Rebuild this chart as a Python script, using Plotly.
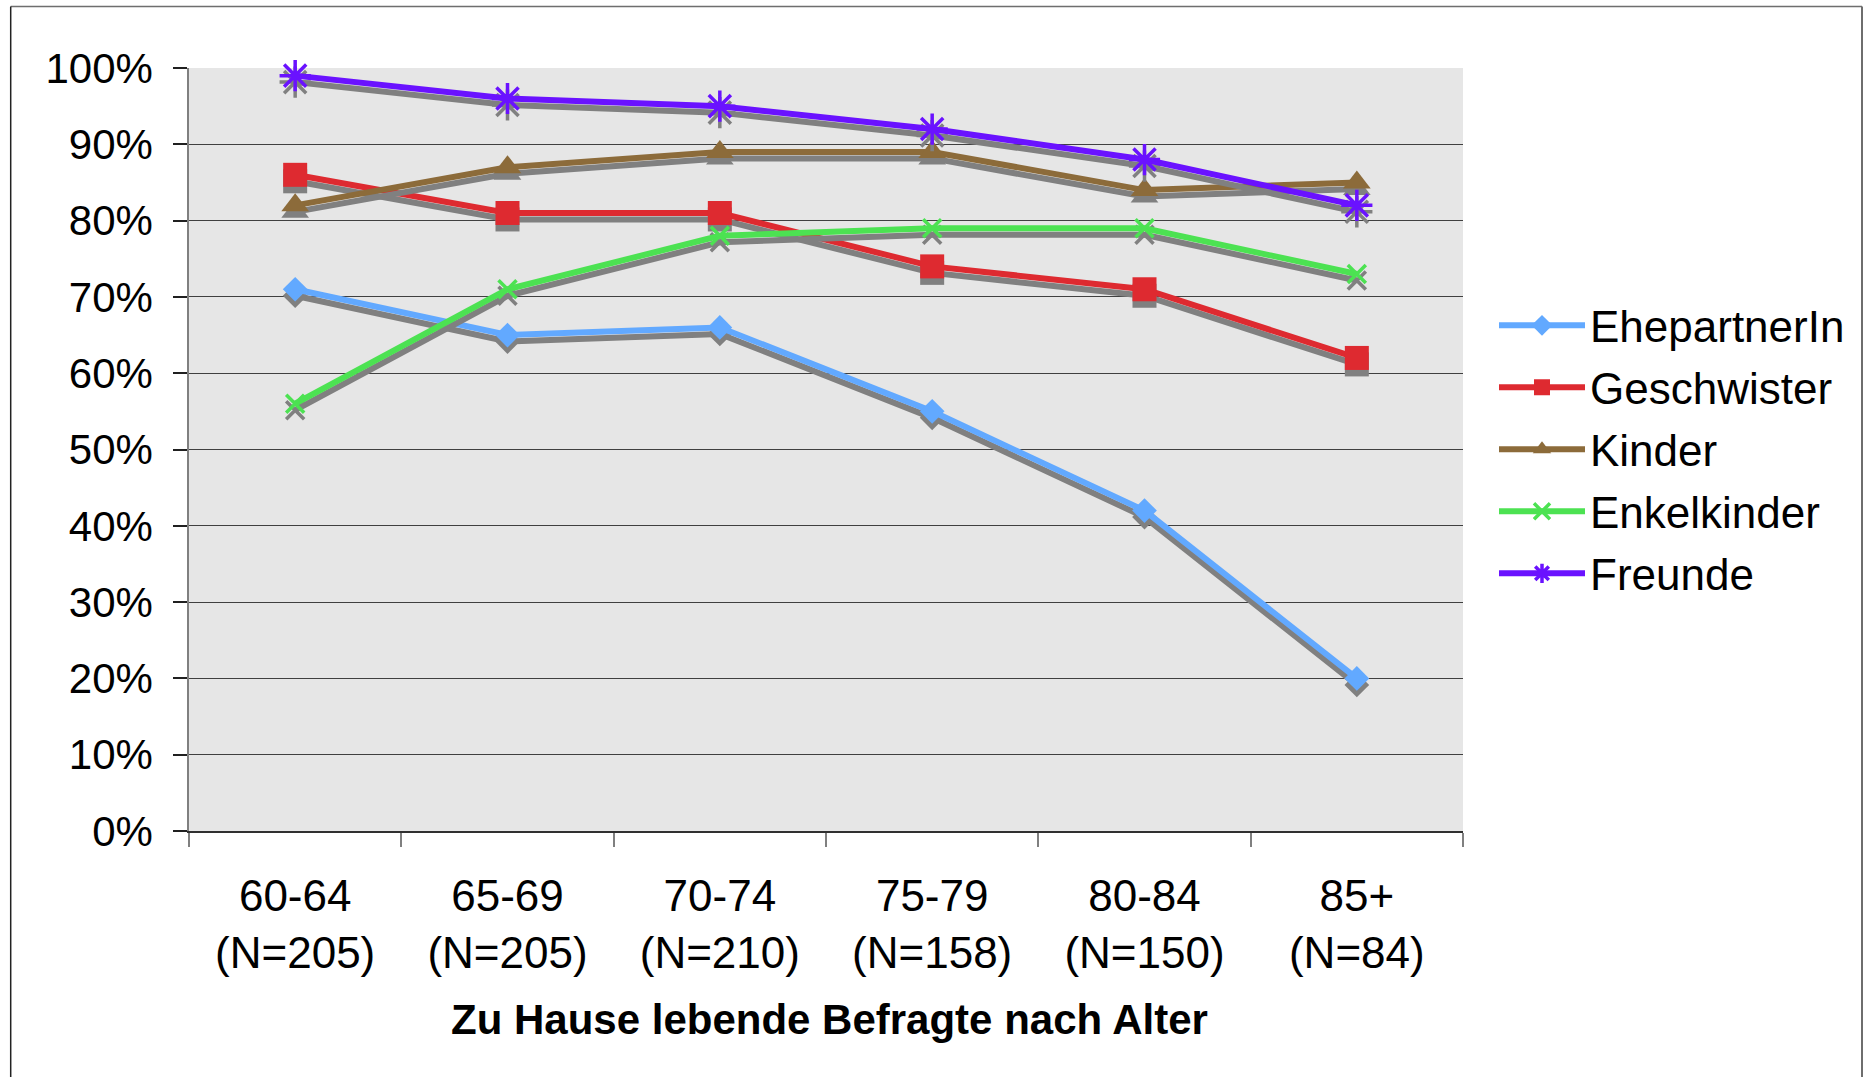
import plotly.graph_objects as go

# ---- data ----
age_groups = ["60-64", "65-69", "70-74", "75-79", "80-84", "85+"]
sample_sizes = [205, 205, 210, 158, 150, 84]

series_names = ["EhepartnerIn", "Geschwister", "Kinder", "Enkelkinder", "Freunde"]
ehepartner = [71, 65, 66, 55, 42, 20]
geschwister = [86, 81, 81, 74, 71, 62]
kinder = [82, 87, 89, 89, 84, 85]
enkelkinder = [56, 71, 78, 79, 79, 73]
freunde = [99, 96, 95, 92, 88, 82]

y_ticks = [0, 10, 20, 30, 40, 50, 60, 70, 80, 90, 100]
y_ticktext = [f"{v}%" for v in y_ticks]
x_title = "Zu Hause lebende Befragte nach Alter"

# ---- styles / layout ----
FONT = "Liberation Sans, Arial, sans-serif"
W, H = 1870, 1077
L, R, T, B = 189, 1463, 67.5, 831.5
PW, PH = R - L, B - T

colors = ["#62A9FF", "#DE2A30", "#8C6B3A", "#4CE252", "#6A12FF"]
symbols = ["diamond", "square", "triangle-up", "x-thin", "asterisk"]
sizes = [19, 24, 24, 18, 26]
open_symbol = [False, False, False, True, True]
SHADOW = "#808080"
shadow_px = 6.5
shadow_off = shadow_px / PH * 100.0

values = [ehepartner, geschwister, kinder, enkelkinder, freunde]
xcats = [f"{a}<br>(N={n})" for a, n in zip(age_groups, sample_sizes)]

fig = go.Figure()
for name, vals, col, sym, sz, op in zip(series_names, values, colors, symbols, sizes, open_symbol):
    sh_vals = [v - shadow_off for v in vals]

    def marker(c):
        if op:
            return dict(symbol=sym, size=sz, color=c, line=dict(color=c, width=3.5))
        return dict(symbol=sym, size=sz, color=c, line=dict(width=0))

    fig.add_trace(go.Scatter(
        x=xcats, y=sh_vals, mode="lines+markers", name=name, legendgroup=name,
        showlegend=False, hoverinfo="skip",
        line=dict(color=SHADOW, width=6), marker=marker(SHADOW), cliponaxis=False,
    ))
    fig.add_trace(go.Scatter(
        x=xcats, y=vals, mode="lines+markers", name=name, legendgroup=name,
        line=dict(color=col, width=6), marker=marker(col), cliponaxis=False,
    ))

fig.update_layout(
    width=W, height=H, autosize=False,
    margin=dict(l=L, r=W - R, t=T, b=H - B, pad=0),
    paper_bgcolor="white", plot_bgcolor="#E6E6E6",
    font=dict(family=FONT, size=42, color="black"),
    showlegend=True,
    legend=dict(
        x=(1494 - L) / PW, xanchor="left",
        y=1 - (290 - T) / PH, yanchor="top",
        font=dict(family=FONT, size=44, color="black"),
        itemwidth=86, traceorder="grouped", tracegroupgap=1.8,
        bgcolor="rgba(0,0,0,0)", borderwidth=0,
    ),
    xaxis=dict(
        type="category", tickson="boundaries", ticks="outside", ticklen=14,
        tickcolor="#808080", tickwidth=1.5, showgrid=False,
        showline=True, linecolor="#303030", linewidth=1.5,
        tickfont=dict(family=FONT, size=44), ticklabelstandoff=25,
        range=[-0.5, 5.5], zeroline=False,
    ),
    yaxis=dict(
        range=[0, 100], tickvals=y_ticks, ticktext=y_ticktext, ticks="outside",
        ticklen=14, tickcolor="#202020", tickwidth=1.5,
        showgrid=True, gridcolor="#404040", gridwidth=1.3,
        showline=True, linecolor="#808080", linewidth=1.5, zeroline=False,
        tickfont=dict(family=FONT, size=42), ticklabelstandoff=12,
    ),
    annotations=[dict(
        text=f"<b>{x_title}</b>", xref="paper", yref="paper",
        x=(829 - L) / PW, y=(B - 1020) / PH, xanchor="center", yanchor="middle",
        showarrow=False, font=dict(family=FONT, size=42, color="black"),
    )],
    shapes=[
        dict(type="line", xref="paper", yref="paper",
             x0=(10.7 - L) / PW, x1=(1862 - L) / PW, y0=(B - 6) / PH, y1=(B - 6) / PH,
             line=dict(color="#6E6E6E", width=1.5), layer="below"),
        dict(type="line", xref="paper", yref="paper",
             x0=(10.7 - L) / PW, x1=(10.7 - L) / PW, y0=(B - 1090) / PH, y1=(B - 6) / PH,
             line=dict(color="#222222", width=1.5), layer="below"),
        dict(type="line", xref="paper", yref="paper",
             x0=(1862 - L) / PW, x1=(1862 - L) / PW, y0=(B - 1090) / PH, y1=(B - 6) / PH,
             line=dict(color="#6E6E6E", width=2), layer="below"),
    ],
)

fig.write_html(
    "out.html",
    config={"displayModeBar": False},
    post_script="document.body.style.margin='0';document.body.style.overflow='hidden';",
)
